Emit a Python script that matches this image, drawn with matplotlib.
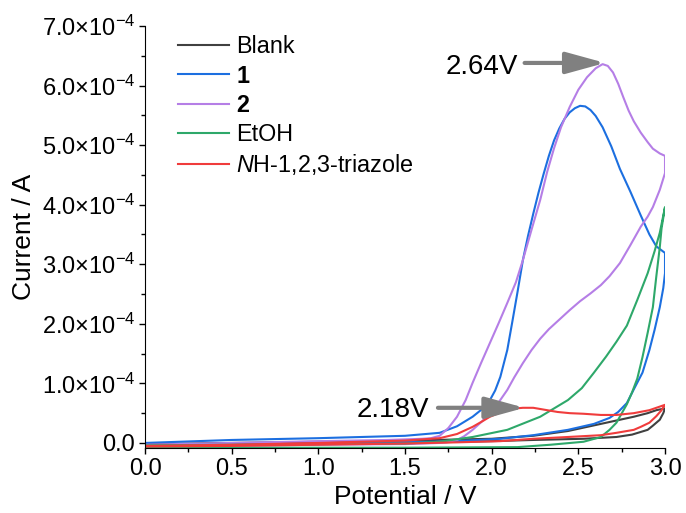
import numpy as np
import matplotlib
matplotlib.use("Agg")
import matplotlib.pyplot as plt
from matplotlib.ticker import MultipleLocator, FuncFormatter

plt.rcParams.update({"font.family": "Liberation Sans",
                     "mathtext.fontset": "custom",
                     "mathtext.rm": "Liberation Sans",
                     "mathtext.it": "Liberation Sans:italic",
                     "mathtext.bf": "Liberation Sans:bold"})

# current values in units of 1e-4 A, potential in V (forward scan then reverse)
blank_v = [0.0, 0.5, 1.0, 1.5, 2.0, 2.24, 2.44, 2.63, 2.82, 2.90, 2.95, 3.00,
           2.99, 2.97, 2.93, 2.90, 2.81, 2.72, 2.53, 2.24, 2.0, 1.5, 1.0, 0.5, 0.0]
blank_i = [-0.02, 0.0, 0.02, 0.04, 0.07, 0.12, 0.20, 0.32, 0.44, 0.50, 0.55, 0.58,
           0.50, 0.39, 0.29, 0.22, 0.14, 0.10, 0.07, 0.05, 0.03, 0.0, -0.02, -0.03, -0.04]

c1_v = [0.0, 0.5, 1.0, 1.5, 1.70, 1.80, 1.89, 1.95, 1.99, 2.02, 2.05, 2.09, 2.12, 2.15,
        2.18, 2.21, 2.24, 2.27, 2.30, 2.33, 2.36, 2.39, 2.42, 2.45, 2.48, 2.51, 2.54,
        2.57, 2.60, 2.64, 2.69, 2.74, 2.80, 2.86, 2.91, 2.95, 3.00,
        3.00, 2.99, 2.97, 2.94, 2.91, 2.87, 2.82, 2.78, 2.73, 2.68, 2.59, 2.44, 2.24,
        2.05, 1.80, 1.50, 1.00, 0.50, 0.0]
c1_i = [0.0, 0.05, 0.08, 0.12, 0.17, 0.28, 0.44, 0.58, 0.72, 0.88, 1.11, 1.56, 2.05, 2.55,
        3.07, 3.48, 3.85, 4.20, 4.52, 4.82, 5.08, 5.28, 5.44, 5.55, 5.62, 5.66, 5.65,
        5.59, 5.49, 5.30, 4.98, 4.60, 4.22, 3.82, 3.50, 3.30, 3.19,
        2.85, 2.60, 2.28, 1.90, 1.56, 1.18, 0.90, 0.67, 0.52, 0.42, 0.32, 0.22, 0.13,
        0.07, 0.03, 0.01, -0.01, -0.03, -0.04]

c2_v = [0.0, 0.5, 1.0, 1.4, 1.6, 1.65, 1.70, 1.75, 1.80, 1.85, 1.89, 1.94, 1.99, 2.04,
        2.09, 2.14, 2.18, 2.23, 2.28, 2.32, 2.36, 2.40, 2.45, 2.50, 2.55, 2.60, 2.64, 2.67,
        2.70, 2.73, 2.76, 2.79, 2.82, 2.86, 2.90, 2.93, 2.97, 3.00,
        3.00, 2.97, 2.93, 2.90, 2.86, 2.80, 2.74, 2.68, 2.63, 2.57, 2.51, 2.45, 2.39,
        2.33, 2.28, 2.23, 2.18, 2.13, 2.09, 2.04, 1.99, 1.94, 1.89, 1.84, 1.80, 1.74,
        1.70, 1.5, 1.0, 0.5, 0.0]
c2_i = [-0.03, 0.0, 0.03, 0.05, 0.07, 0.08, 0.12, 0.25, 0.44, 0.72, 1.01, 1.35, 1.68, 2.01,
        2.35, 2.70, 3.07, 3.58, 4.08, 4.55, 4.95, 5.30, 5.64, 5.93, 6.14, 6.29, 6.36, 6.33,
        6.22, 6.03, 5.80, 5.58, 5.40, 5.21, 5.05, 4.94, 4.86, 4.82,
        4.53, 4.25, 3.96, 3.80, 3.63, 3.32, 3.02, 2.80, 2.65, 2.51, 2.38, 2.23, 2.07,
        1.91, 1.75, 1.56, 1.34, 1.10, 0.89, 0.68, 0.50, 0.35, 0.22, 0.11, 0.05, 0.01,
        0.0, -0.02, -0.03, -0.05, -0.05]

etoh_v = [0.0, 0.5, 1.0, 1.5, 1.70, 1.89, 2.09, 2.28, 2.44, 2.52, 2.59, 2.66, 2.72, 2.78,
          2.84, 2.90, 2.94, 2.97, 3.00,
          2.98, 2.97, 2.95, 2.93, 2.90, 2.87, 2.84, 2.81, 2.78, 2.72, 2.68, 2.63, 2.53,
          2.34, 2.15, 1.5, 1.0, 0.5, 0.0]
etoh_i = [-0.04, -0.03, -0.02, -0.01, 0.02, 0.10, 0.22, 0.44, 0.72, 0.92, 1.18, 1.45, 1.70, 1.97,
          2.40, 2.85, 3.22, 3.53, 3.96,
          3.60, 3.29, 2.80, 2.28, 1.85, 1.44, 1.08, 0.85, 0.65, 0.34, 0.22, 0.10, 0.02,
          -0.03, -0.07, -0.08, -0.08, -0.08, -0.08]

tri_v = [0.0, 0.5, 1.0, 1.5, 1.70, 1.80, 1.89, 1.95, 1.99, 2.04, 2.09, 2.14, 2.18, 2.24,
         2.30, 2.38, 2.45, 2.53, 2.63, 2.72, 2.82, 2.91, 3.00,
         2.98, 2.95, 2.91, 2.86, 2.82, 2.72, 2.63, 2.44, 2.24, 2.05, 1.80, 1.5, 1.0, 0.5, 0.0]
tri_i = [-0.05, -0.03, 0.0, 0.04, 0.08, 0.15, 0.27, 0.37, 0.44, 0.50, 0.55, 0.58, 0.59, 0.59,
         0.56, 0.52, 0.50, 0.49, 0.47, 0.47, 0.50, 0.55, 0.64,
         0.55, 0.45, 0.34, 0.27, 0.22, 0.17, 0.13, 0.10, 0.07, 0.03, 0.01, -0.01, -0.03, -0.05, -0.06]

labels = ["Blank", r"$\mathbf{1}$", r"$\mathbf{2}$", "EtOH", r"$\mathit{N}$H-1,2,3-triazole"]
colors = ["#404040", "#1c6fe0", "#b57ee6", "#2ea86a", "#f03c3c"]
curves = [(blank_v, blank_i), (c1_v, c1_i), (c2_v, c2_i), (etoh_v, etoh_i), (tri_v, tri_i)]

fig = plt.figure(figsize=(6.86, 5.13), dpi=100)
ax = fig.add_axes([0.2114, 0.1267, 0.758, 0.8226])

for (v, i), lab, col in zip(curves, labels, colors):
    ax.plot(v, np.array(i) * 1e-4, color=col, lw=1.5, label=lab)

ax.set_xlim(0, 3.0)
ax.set_ylim(-0.085e-4, 7.0e-4)
ax.spines["top"].set_visible(False)
ax.spines["right"].set_visible(False)
ax.xaxis.set_major_locator(MultipleLocator(0.5))
ax.xaxis.set_minor_locator(MultipleLocator(0.25))
ax.yaxis.set_major_locator(MultipleLocator(1e-4))
ax.yaxis.set_minor_locator(MultipleLocator(0.5e-4))


def yfmt(val, pos):
    if abs(val) < 1e-9:
        return "0.0"
    return r"$\mathregular{%.1f{\times}10^{-4}}$" % (val / 1e-4)


ax.yaxis.set_major_formatter(FuncFormatter(yfmt))
ax.xaxis.set_major_formatter(FuncFormatter(lambda v, p: "%.1f" % v))
ax.tick_params(which="major", direction="out", length=4, width=1, labelsize=17, pad=3)
ax.tick_params(which="minor", direction="out", length=2.7, width=1)
ax.set_xlabel("Potential / V", fontsize=19, labelpad=4)
ax.set_ylabel("Current / A", fontsize=19, labelpad=4)

leg = ax.legend(loc="upper left", bbox_to_anchor=(0.063, 0.978), frameon=False, fontsize=16.8,
                handlelength=2.2, handletextpad=0.3, labelspacing=0.27, borderpad=0, borderaxespad=0)

arrow = dict(arrowstyle="-|>,head_length=2.0,head_width=0.55", color="#808080", lw=3,
             shrinkA=0, shrinkB=0, mutation_scale=12)
ax.annotate("", xy=(2.655, 6.38e-4), xytext=(2.19, 6.38e-4), arrowprops=arrow)
ax.annotate("", xy=(2.19, 0.59e-4), xytext=(1.69, 0.59e-4), arrowprops=arrow)
ax.text(2.152, 6.31e-4, "2.64V", fontsize=20, ha="right", va="center")
ax.text(1.64, 0.554e-4, "2.18V", fontsize=20, ha="right", va="center")

fig.savefig("out.png", dpi=100)
